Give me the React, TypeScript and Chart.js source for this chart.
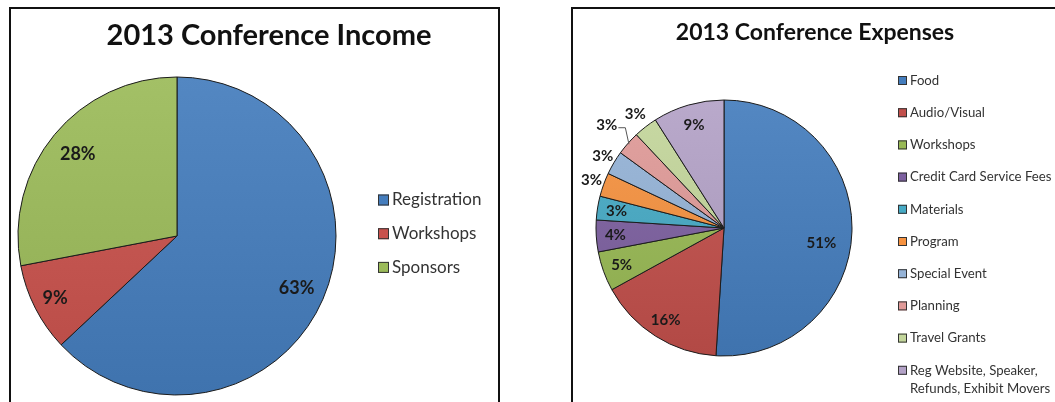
import React, { useEffect, useRef } from "react";
import { Chart, registerables } from "chart.js";

Chart.register(...registerables);

// ---------- data ----------
const incomeTitle = "2013 Conference Income";
const incomeLabels = ["Registration", "Workshops", "Sponsors"];
const incomeValues = [63, 9, 28];
const incomeColors = ["#447DBD", "#C9514C", "#9BBB59"];

const expenseTitle = "2013 Conference Expenses";
const expenseLabels = [
  "Food",
  "Audio/Visual",
  "Workshops",
  "Credit Card Service Fees",
  "Materials",
  "Program",
  "Special Event",
  "Planning",
  "Travel Grants",
  "Reg Website, Speaker, Refunds, Exhibit Movers",
];
const expenseLegendText = [
  ["Food"],
  ["Audio/Visual"],
  ["Workshops"],
  ["Credit Card Service Fees"],
  ["Materials"],
  ["Program"],
  ["Special Event"],
  ["Planning"],
  ["Travel Grants"],
  ["Reg Website, Speaker,", "Refunds, Exhibit Movers"],
];
const expenseValues = [51, 16, 5, 4, 3, 3, 3, 3, 3, 9];
const expenseColors = [
  "#447DBD",
  "#C24F4B",
  "#98B954",
  "#7D60A0",
  "#46AAC5",
  "#F69240",
  "#95B3D7",
  "#E09A98",
  "#C3D69B",
  "#B3A2C7",
];

// ---------- label placement (style) ----------
const incomeLabelRadius = [0.82, 0.86, 0.81];
const expenseLabelRadius = [0.77, 0.85, 0.85, 0.85, 0.85, 1.1, 1.1, 1.22, 1.13, 0.84];
const expenseLabelAngleShift = [0.12, 0, 0, 0, 0, 0, 0, 0, 0, 0];
const expenseLeader = [false, false, false, false, false, false, false, true, false, false];

const FONT = "Lato, 'Open Sans', sans-serif";
const TEXT = "#1a1a1a";

function shade(hex: string, amt: number) {
  const n = parseInt(hex.slice(1), 16);
  const ch = [(n >> 16) & 255, (n >> 8) & 255, n & 255].map((c) => {
    const v = amt >= 0 ? c + (255 - c) * amt : c * (1 + amt);
    return Math.max(0, Math.min(255, Math.round(v)));
  });
  return `rgb(${ch[0]},${ch[1]},${ch[2]})`;
}

type Cfg = {
  id: string;
  title: string;
  titleX: number;
  titleY: number;
  titleSize: number;
  labelSize: number;
  labelRadius: number[];
  angleShift?: number[];
  leader?: boolean[];
  legendX: number;
  legendY: number;
  legendStep: number;
  legendBox: number;
  legendSize: number;
  legendLineH: number;
  legendText: string[][];
  colors: string[];
};

function makePlugin(cfg: Cfg) {
  return {
    id: "deco_" + cfg.id,
    afterDatasetsDraw(chart: any) {
      const ctx = chart.ctx as CanvasRenderingContext2D;
      const meta = chart.getDatasetMeta(0);
      const ds = chart.data.datasets[0];
      const values = ds.data as number[];
      const total = values.reduce((a, b) => a + b, 0);
      const colors = cfg.colors;
      ctx.save();
      // data labels
      ctx.font = `bold ${cfg.labelSize}px ${FONT}`;
      ctx.fillStyle = TEXT;
      ctx.textAlign = "center";
      ctx.textBaseline = "middle";
      meta.data.forEach((arc: any, i: number) => {
        const p = arc.getProps(["x", "y", "startAngle", "endAngle", "outerRadius"], true);
        const mid = (p.startAngle + p.endAngle) / 2 + (cfg.angleShift ? cfg.angleShift[i] : 0);
        const rr = p.outerRadius * cfg.labelRadius[i];
        const lx = p.x + Math.cos(mid) * rr;
        const ly = p.y + Math.sin(mid) * rr;
        const txt = Math.round((values[i] / total) * 100) + "%";
        ctx.fillText(txt, lx, ly);
        if (cfg.leader && cfg.leader[i]) {
          const w = ctx.measureText(txt).width;
          const ex = p.x + Math.cos(mid) * p.outerRadius * 0.99;
          const ey = p.y + Math.sin(mid) * p.outerRadius * 0.99;
          ctx.save();
          ctx.strokeStyle = "#555";
          ctx.lineWidth = 1;
          ctx.beginPath();
          ctx.moveTo(lx + w / 2 + 1, ly + 3);
          ctx.lineTo(lx + w / 2 + 8, ly + 3);
          ctx.lineTo(ex, ey);
          ctx.stroke();
          ctx.restore();
        }
      });
      // title
      ctx.font = `bold ${cfg.titleSize}px ${FONT}`;
      ctx.fillStyle = "#111";
      ctx.textAlign = "center";
      ctx.fillText(cfg.title, cfg.titleX, cfg.titleY);
      // legend
      ctx.font = `${cfg.legendSize}px ${FONT}`;
      ctx.textAlign = "left";
      cfg.legendText.forEach((lines, i) => {
        const cy = cfg.legendY + i * cfg.legendStep;
        const b = cfg.legendBox;
        ctx.fillStyle = colors[i];
        ctx.fillRect(cfg.legendX, cy - b / 2, b, b);
        ctx.strokeStyle = "#333";
        ctx.lineWidth = 1;
        ctx.strokeRect(cfg.legendX + 0.5, cy - b / 2 + 0.5, b - 1, b - 1);
        ctx.fillStyle = "#333";
        lines.forEach((ln, j) => {
          ctx.fillText(ln, cfg.legendX + b + 3, cy + j * cfg.legendLineH);
        });
      });
      ctx.restore();
    },
  };
}

function PieBox(props: {
  left: number;
  width: number;
  labels: string[];
  values: number[];
  colors: string[];
  padding: { left: number; right: number; top: number; bottom: number };
  radius: number;
  cfg: Cfg;
}) {
  const ref = useRef<HTMLCanvasElement | null>(null);
  useEffect(() => {
    if (!ref.current) return;
    const cols = props.colors;
    const chart = new Chart(ref.current, {
      type: "pie",
      data: {
        labels: props.labels,
        datasets: [
          {
            data: props.values,
            backgroundColor: (c: any) => {
              const base = cols[c.dataIndex % cols.length];
              const area = c.chart.chartArea;
              if (!area) return base;
              const g = c.chart.ctx.createLinearGradient(0, area.top, 0, area.bottom);
              g.addColorStop(0, shade(base, 0.08));
              g.addColorStop(1, shade(base, -0.08));
              return g;
            },
            borderColor: "#1b1b1b",
            borderWidth: 1,
          },
        ],
      },
      options: {
        animation: false,
        responsive: false,
        maintainAspectRatio: false,
        devicePixelRatio: 1,
        radius: props.radius,
        layout: { padding: props.padding },
        plugins: {
          legend: { display: false },
          title: { display: false },
          tooltip: { enabled: false },
        },
        events: [],
      } as any,
      plugins: [makePlugin(props.cfg)],
    });
    return () => chart.destroy();
  }, []);
  return (
    <canvas
      ref={ref}
      width={props.width}
      height={402}
      style={{ position: "absolute", left: props.left, top: 0, width: props.width, height: 402 }}
    />
  );
}

export default function App() {
  return (
    <div
      style={{
        position: "fixed",
        left: 0,
        top: 0,
        width: 1055,
        height: 402,
        background: "#fff",
        overflow: "hidden",
      }}
    >
      <div
        style={{
          position: "absolute",
          left: 9,
          top: 7,
          width: 491,
          height: 420,
          border: "2px solid #111",
          boxSizing: "border-box",
        }}
      />
      <div
        style={{
          position: "absolute",
          left: 571,
          top: 7,
          width: 520,
          height: 420,
          border: "2px solid #111",
          boxSizing: "border-box",
        }}
      />
      <PieBox
        left={0}
        width={530}
        labels={incomeLabels}
        values={incomeValues}
        colors={incomeColors}
        padding={{ left: 0, right: 176, top: 77, bottom: 7 }}
        radius={159}
        cfg={{
          id: "income",
          title: incomeTitle,
          titleX: 269,
          titleY: 36,
          titleSize: 29,
          labelSize: 18,
          labelRadius: incomeLabelRadius,
          legendX: 378,
          legendY: 200,
          legendStep: 33.7,
          legendBox: 11,
          legendSize: 17,
          legendLineH: 18,
          legendText: incomeLabels.map((l) => [l]),
          colors: incomeColors,
        }}
      />
      <PieBox
        left={530}
        width={525}
        labels={expenseLabels}
        values={expenseValues}
        colors={expenseColors}
        padding={{ left: 0, right: 137, top: 100, bottom: 46 }}
        radius={128}
        cfg={{
          id: "expense",
          title: expenseTitle,
          titleX: 285,
          titleY: 33,
          titleSize: 23,
          labelSize: 15,
          labelRadius: expenseLabelRadius,
          angleShift: expenseLabelAngleShift,
          leader: expenseLeader,
          legendX: 368,
          legendY: 80.5,
          legendStep: 32.2,
          legendBox: 9,
          legendSize: 13.2,
          legendLineH: 18.3,
          legendText: expenseLegendText,
          colors: expenseColors,
        }}
      />
    </div>
  );
}
